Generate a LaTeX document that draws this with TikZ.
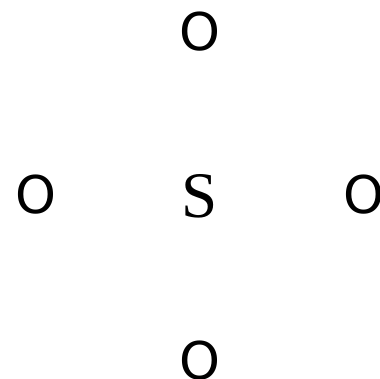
\documentclass[tikz,border=0pt]{standalone}
\usepackage{fontspec}
\setmainfont{Liberation Serif}
\setsansfont{DejaVu Sans}

\begin{document}
\begin{tikzpicture}[
  x=1pt,
  y=1pt,
  oxygen/.style={
    inner sep=0pt,
    text=black,
    font=\sffamily\fontsize{52}{60}\selectfont
  },
  sulfur/.style={
    inner sep=0pt,
    text=black,
    font=\rmfamily\fontsize{65}{72}\selectfont
  }
]
\useasboundingbox (0,0) rectangle (379,379);

% central atom with the four oxygens round it
\node[sulfur] (s)  at (200,183) {S};
\node[oxygen] (o1) at (200,347) {O};
\node[oxygen] (o2) at (36,184)  {O};
\node[oxygen] (o3) at (364,184) {O};
\node[oxygen] (o4) at (200,18)  {O};

\end{tikzpicture}
\end{document}
